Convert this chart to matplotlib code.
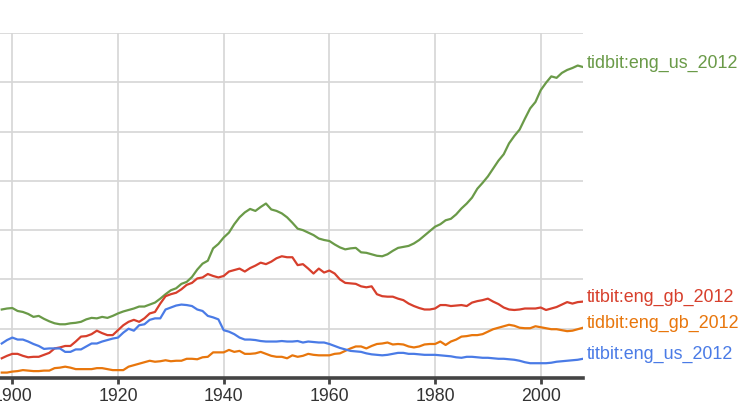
import numpy as np
import matplotlib.pyplot as plt

## data (values in units of 1e-7 %)

years = np.arange(1898, 2009)

tidbit_us = [1.39, 1.41, 1.42, 1.36, 1.34, 1.30, 1.24, 1.26, 1.20, 1.15,
             1.11, 1.09, 1.09, 1.11, 1.12, 1.14, 1.19, 1.22, 1.21, 1.24,
             1.22, 1.26, 1.31, 1.35, 1.38, 1.41, 1.45, 1.45, 1.49, 1.53,
             1.61, 1.70, 1.78, 1.82, 1.91, 1.95, 2.05, 2.20, 2.32, 2.38,
             2.63, 2.72, 2.85, 2.95, 3.12, 3.26, 3.36, 3.43, 3.39, 3.47,
             3.54, 3.42, 3.39, 3.34, 3.26, 3.15, 3.03, 3.00, 2.95, 2.90,
             2.83, 2.80, 2.78, 2.71, 2.65, 2.61, 2.63, 2.64, 2.55, 2.54,
             2.51, 2.48, 2.47, 2.51, 2.58, 2.64, 2.66, 2.68, 2.73, 2.80,
             2.89, 2.98, 3.07, 3.12, 3.20, 3.23, 3.32, 3.44, 3.54, 3.66,
             3.84, 3.96, 4.09, 4.25, 4.41, 4.54, 4.76, 4.91, 5.04, 5.26,
             5.47, 5.60, 5.84, 5.99, 6.12, 6.09, 6.19, 6.25, 6.29, 6.34,
             6.31]

titbit_gb = [0.40, 0.45, 0.49, 0.49, 0.45, 0.42, 0.43, 0.43, 0.47, 0.51,
             0.60, 0.62, 0.65, 0.65, 0.74, 0.84, 0.85, 0.89, 0.96, 0.91,
             0.87, 0.87, 0.97, 1.07, 1.14, 1.18, 1.14, 1.21, 1.31, 1.34,
             1.51, 1.66, 1.70, 1.73, 1.80, 1.89, 1.93, 2.02, 2.04, 2.11,
             2.07, 2.04, 2.07, 2.16, 2.19, 2.22, 2.16, 2.23, 2.28, 2.34,
             2.31, 2.36, 2.43, 2.47, 2.45, 2.45, 2.29, 2.31, 2.22, 2.12,
             2.22, 2.14, 2.18, 2.12, 2.00, 1.93, 1.92, 1.91, 1.86, 1.84,
             1.86, 1.70, 1.66, 1.65, 1.65, 1.61, 1.58, 1.51, 1.46, 1.42,
             1.39, 1.39, 1.41, 1.48, 1.48, 1.46, 1.47, 1.48, 1.46, 1.53,
             1.56, 1.58, 1.61, 1.55, 1.50, 1.43, 1.39, 1.38, 1.39, 1.41,
             1.41, 1.41, 1.43, 1.38, 1.41, 1.44, 1.49, 1.54, 1.51, 1.54,
             1.55]

tidbit_gb = [0.11, 0.11, 0.13, 0.14, 0.16, 0.15, 0.14, 0.14, 0.15, 0.15,
             0.20, 0.21, 0.23, 0.21, 0.18, 0.18, 0.18, 0.18, 0.20, 0.20,
             0.18, 0.16, 0.16, 0.16, 0.23, 0.26, 0.29, 0.32, 0.35, 0.33,
             0.34, 0.36, 0.34, 0.35, 0.35, 0.39, 0.39, 0.38, 0.42, 0.43,
             0.52, 0.52, 0.52, 0.57, 0.53, 0.55, 0.49, 0.49, 0.50, 0.53,
             0.49, 0.45, 0.43, 0.43, 0.40, 0.46, 0.43, 0.45, 0.49, 0.47,
             0.46, 0.46, 0.46, 0.49, 0.50, 0.55, 0.60, 0.64, 0.64, 0.60,
             0.65, 0.69, 0.70, 0.72, 0.68, 0.69, 0.68, 0.64, 0.62, 0.64,
             0.68, 0.69, 0.69, 0.74, 0.67, 0.74, 0.78, 0.84, 0.85, 0.87,
             0.87, 0.89, 0.94, 0.99, 1.02, 1.05, 1.08, 1.06, 1.02, 1.01,
             1.01, 1.05, 1.03, 1.01, 0.99, 0.99, 0.97, 0.95, 0.96, 0.99,
             1.02]

titbit_us = [0.70, 0.77, 0.82, 0.78, 0.78, 0.74, 0.69, 0.65, 0.59, 0.60,
             0.60, 0.60, 0.53, 0.53, 0.58, 0.58, 0.64, 0.70, 0.70, 0.74,
             0.77, 0.80, 0.82, 0.92, 1.00, 0.96, 1.07, 1.09, 1.18, 1.21,
             1.21, 1.39, 1.43, 1.47, 1.49, 1.48, 1.46, 1.39, 1.36, 1.26,
             1.23, 1.19, 0.97, 0.94, 0.89, 0.82, 0.78, 0.78, 0.77, 0.75,
             0.74, 0.74, 0.74, 0.75, 0.74, 0.74, 0.75, 0.72, 0.74, 0.73,
             0.72, 0.72, 0.69, 0.65, 0.61, 0.58, 0.55, 0.54, 0.53, 0.50,
             0.48, 0.47, 0.46, 0.47, 0.49, 0.51, 0.51, 0.49, 0.49, 0.48,
             0.47, 0.47, 0.47, 0.46, 0.45, 0.44, 0.42, 0.41, 0.43, 0.43,
             0.42, 0.41, 0.41, 0.40, 0.39, 0.39, 0.38, 0.37, 0.35, 0.32,
             0.30, 0.30, 0.30, 0.30, 0.31, 0.33, 0.34, 0.35, 0.36, 0.37,
             0.39]

series = [
    ('tidbit:eng_us_2012', tidbit_us, '#6a9a48'),
    ('titbit:eng_gb_2012', titbit_gb, '#d73f2c'),
    ('tidbit:eng_gb_2012', tidbit_gb, '#e8760c'),
    ('titbit:eng_us_2012', titbit_us, '#4a7be6'),
]

xticks = [1900, 1920, 1940, 1960, 1980, 2000]

## plot

plt.rcParams['font.family'] = ['Liberation Sans', 'DejaVu Sans']

fig = plt.figure(figsize=(7.47, 4.19), dpi=100)
ax = fig.add_axes([0, 41/419, 583/747, 345/419])

for name, vals, col in series:
    ax.plot(years, vals, color=col, lw=1.6, solid_joinstyle='round')
    ax.annotate(name, (years[-1], vals[-1]), xytext=(4, 4),
                textcoords='offset pixels', color=col, fontsize=12.9,
                va='center', ha='left', annotation_clip=False)

ax.set_xlim(1897.67, 2008)
ax.set_ylim(0, 7)
ax.set_xticks(xticks)
ax.set_yticks(np.arange(0, 8))
ax.set_yticklabels([])
ax.grid(True, color='#d6d6d6', lw=1.2)
ax.set_axisbelow(True)

for s in ['top', 'right', 'left']:
    ax.spines[s].set_visible(False)
ax.spines['bottom'].set_color('#444444')
ax.spines['bottom'].set_linewidth(2.6)
ax.tick_params(axis='x', colors='#444444', width=2, length=4,
               labelsize=12.8, pad=3, labelcolor='#333333')
ax.tick_params(axis='y', length=0)

fig.savefig('out.png', dpi=100)
